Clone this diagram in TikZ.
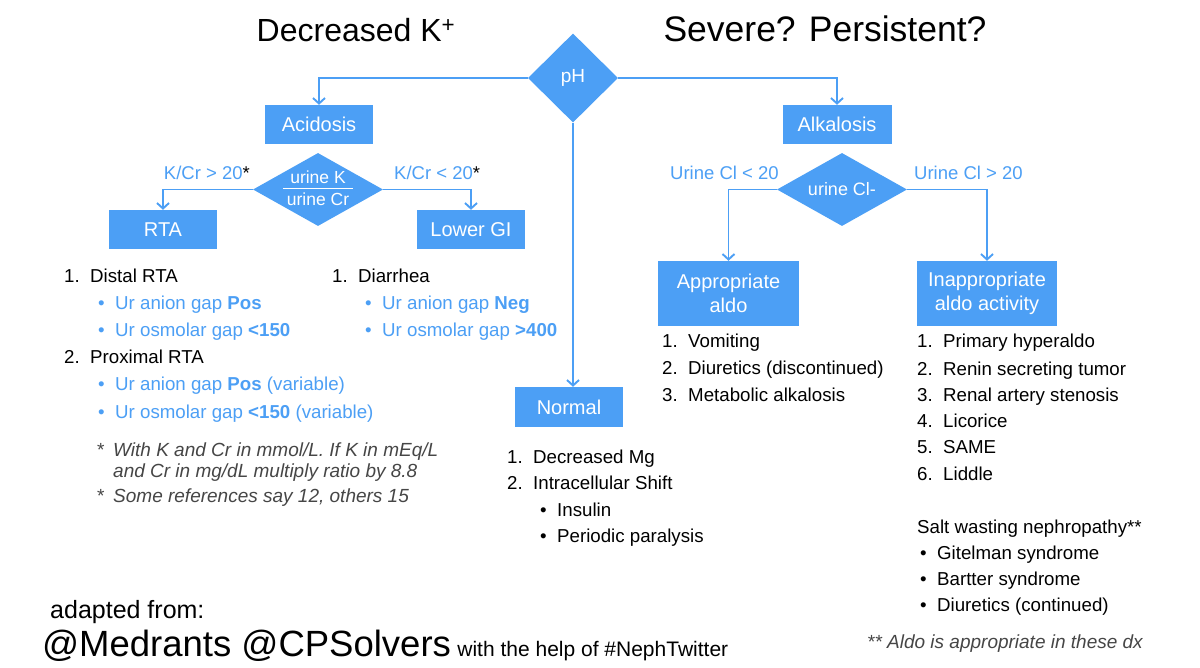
\documentclass[tikz,border=0pt]{standalone}
\usepackage{fontspec}
\setmainfont{Liberation Sans}
\usetikzlibrary{shapes.geometric,arrows.meta}
\definecolor{mblue}{RGB}{76,159,245}
\definecolor{fgray}{RGB}{70,70,70}
\newcommand\fs[1]{\fontsize{#1}{24}\selectfont}
\newcommand\numit[2]{\makebox[26pt][l]{#1}#2}
\newcommand\bul[1]{\makebox[17pt][l]{\textbullet}#1}
\newcommand\astit[1]{\makebox[16pt][l]{\upshape *}#1}
\tikzset{
  bx/.style={fill=mblue, text=white, inner sep=0pt, font=\fs{20}, align=center},
  dia/.style={diamond, fill=mblue, inner sep=0pt},
  diatext/.style={text=white, inner sep=0pt, font=\fs{18}, align=center},
  arr/.style={draw=mblue, line width=1.9pt, -{Straight Barb[length=5.5pt,width=12pt]}},
  lbl/.style={text=mblue, font=\fs{18.5}, anchor=base west, inner sep=0pt},
  item/.style={text=black, font=\fs{18.7}, anchor=base west, inner sep=0pt},
  bitem/.style={text=mblue, font=\fs{18.7}, anchor=base west, inner sep=0pt},
  note/.style={text=fgray, font=\fs{19}\itshape, anchor=base west, inner sep=0pt},
  title/.style={text=black, anchor=base, inner sep=0pt},
}
\begin{document}
\begin{tikzpicture}[x=1pt,y=-1pt]
\path[use as bounding box, fill=white] (0,0) rectangle (1200,668);

% titles
\node[title, font=\fs{32}] (t1) at (356,42) {Decreased K\textsuperscript{+}};
\node[title, font=\fs{35.5}] (t2) at (825,42) {Severe? Persistent?};

% diamonds
\node[dia, minimum width=90pt, minimum height=89pt] (ph) at (573,78) {};
\node[diatext, font=\fs{19}] (phT) at (573,78) {pH};
\node[dia, minimum width=130pt, minimum height=73pt] (uk) at (318,189.5) {};
\node[diatext, font=\fs{17.5}] (ukT) at (318,190) {\begin{tabular}{@{\hspace{4pt}}c@{\hspace{4pt}}}urine K\\[-3pt]\hline\rule{0pt}{17pt}urine Cr\end{tabular}};
\node[dia, minimum width=130pt, minimum height=73pt] (ucl) at (842,189.5) {};
\node[diatext] (uclT) at (842,189) {urine Cl-};

% boxes
\node[bx, minimum width=108pt, minimum height=39pt] (acid) at (319,124.5) {Acidosis};
\node[bx, minimum width=109pt, minimum height=39pt] (alk) at (837,124.5) {Alkalosis};
\node[bx, minimum width=108pt, minimum height=39pt] (rta) at (163,229.5) {RTA};
\node[bx, minimum width=108pt, minimum height=39pt] (lgi) at (471,229.5) {Lower GI};
\node[bx, minimum width=108pt, minimum height=40pt] (normal) at (569,407) {Normal};
\node[bx, minimum width=141pt, minimum height=65pt] (appr) at (728.5,293.5) {Appropriate\\aldo};
\node[bx, minimum width=140pt, minimum height=65pt] (inap) at (987,293.5) {Inappropriate\\aldo activity};

% connectors
\draw[arr] (ph.west) -| (acid.north);
\draw[arr] (ph.east) -| (alk.north);
\draw[arr] (ph.south) -- (ph.south |- normal.north);
\draw[arr] (uk.west) -| (rta.north);
\draw[arr] (uk.east) -| (lgi.north);
\draw[arr] (ucl.west) -| (appr.north);
\draw[arr] (ucl.east) -| (inap.north);

% connector labels
\node[lbl, anchor=base east] (l1) at (250,180) {K/Cr > 20\textcolor{black}{*}};
\node[lbl] (l2) at (394,180) {K/Cr < 20\textcolor{black}{*}};
\node[lbl] (l3) at (670,180) {Urine Cl < 20};
\node[lbl] (l4) at (914,180) {Urine Cl > 20};

% RTA list
\node[item] (r1) at (64,283) {\numit{1.}{Distal RTA}};
\node[bitem] (r2) at (98,310) {\bul{Ur anion gap \textbf{Pos}}};
\node[bitem] (r3) at (98,337) {\bul{Ur osmolar gap \textbf{<150}}};
\node[item] (r4) at (64,364) {\numit{2.}{Proximal RTA}};
\node[bitem] (r5) at (98,391) {\bul{Ur anion gap \textbf{Pos} (variable)}};
\node[bitem] (r6) at (98,418) {\bul{Ur osmolar gap \textbf{<150} (variable)}};
\node[note] (n1) at (97,456) {\astit{With K and Cr in mmol/L. If K in mEq/L}};
\node[note] (n2) at (113,477) {and Cr in mg/dL multiply ratio by 8.8};
\node[note] (n3) at (97,502) {\astit{Some references say 12, others 15}};

% Lower GI list
\node[item] (g1) at (332,283) {\numit{1.}{Diarrhea}};
\node[bitem] (g2) at (365,310) {\bul{Ur anion gap \textbf{Neg}}};
\node[bitem] (g3) at (365,337) {\bul{Ur osmolar gap \textbf{>400}}};

% Normal list
\node[item] (m1) at (507,463) {\numit{1.}{Decreased Mg}};
\node[item] (m2) at (507,489) {\numit{2.}{Intracellular Shift}};
\node[item] (m3) at (540,516) {\bul{Insulin}};
\node[item] (m4) at (540,542) {\bul{Periodic paralysis}};

% Appropriate aldo list
\node[item] (a1) at (662,348) {\numit{1.}{Vomiting}};
\node[item] (a2) at (662,374) {\numit{2.}{Diuretics (discontinued)}};
\node[item] (a3) at (662,401) {\numit{3.}{Metabolic alkalosis}};

% Inappropriate list
\node[item] (i1) at (917,348) {\numit{1.}{Primary hyperaldo}};
\node[item] (i2) at (917,375) {\numit{2.}{Renin secreting tumor}};
\node[item] (i3) at (917,401) {\numit{3.}{Renal artery stenosis}};
\node[item] (i4) at (917,427) {\numit{4.}{Licorice}};
\node[item] (i5) at (917,453) {\numit{5.}{SAME}};
\node[item] (i6) at (917,480) {\numit{6.}{Liddle}};
\node[item] (s0) at (917,533) {Salt wasting nephropathy**};
\node[item] (s1) at (920,559) {\bul{Gitelman syndrome}};
\node[item] (s2) at (920,585) {\bul{Bartter syndrome}};
\node[item] (s3) at (920,611) {\bul{Diuretics (continued)}};
\node[note, anchor=base east] (n4) at (1143,648) {** Aldo is appropriate in these dx};

% credits
\node[item, font=\fs{25}] (c1) at (50,618) {adapted from:};
\node[item, font=\fs{36.5}] (c2) at (42,656) {@Medrants @CPSolvers};
\node[item, font=\fs{21}, anchor=base west] (c3) at (c2.base east) {\hspace{6pt}with the help of \#NephTwitter};
\end{tikzpicture}
\end{document}
